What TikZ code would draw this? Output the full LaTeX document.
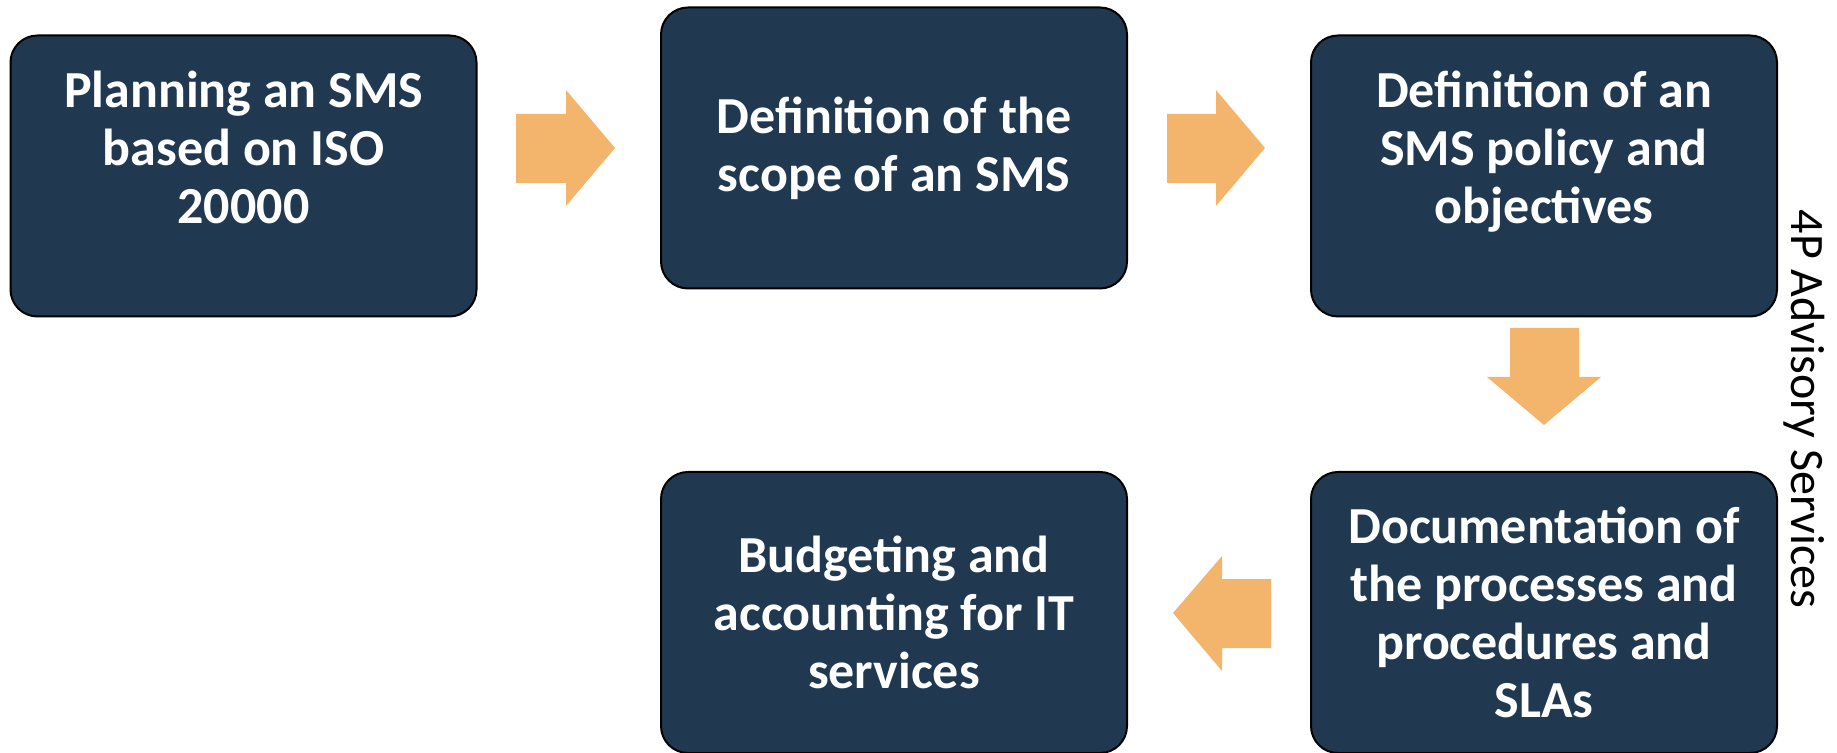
\documentclass[tikz,border=0pt]{standalone}
\usepackage{fontspec}
\setmainfont{Carlito}
\definecolor{boxfill}{RGB}{33,57,80}
\definecolor{arrowfill}{RGB}{243,180,108}
\tikzset{
  stepbox/.style={draw=black, line width=1pt, fill=boxfill, rounded corners=13.5pt,
    minimum width=233pt, minimum height=140.5pt, inner sep=0pt,
    text=white, align=center, font=\fontsize{26}{29}\selectfont\bfseries},
  blockarrow/.style={fill=arrowfill},
  sidelabel/.style={font=\fontsize{24}{28}\selectfont, text=black, inner sep=0pt}
}
\begin{document}
\begin{tikzpicture}[x=0.5pt, y=-0.5pt]
\path[use as bounding box] (0,0) rectangle (1837,753);
\node[stepbox] (b1) at (243.5,176) {Planning an SMS\\based on ISO\\20000\\~};
\node[stepbox] (b2) at (894,148) {Definition of the\\scope of an SMS};
\node[stepbox] (b3) at (1544,176) {Definition of an\\SMS policy and\\objectives\\~};
\node[stepbox] (b5) at (1544,612.5) {Documentation of\\the processes and\\procedures and\\SLAs};
\node[stepbox] (b4) at (894,612.5) {Budgeting and\\accounting for IT\\services};
% block arrows
\fill[blockarrow] (516,114) -- (566,114) -- (566,90) -- (615,148) -- (566,206) -- (566,183) -- (516,183) -- cycle;
\fill[blockarrow] (1167,114) -- (1216,114) -- (1216,90) -- (1265,148) -- (1216,206) -- (1216,183) -- (1167,183) -- cycle;
\fill[blockarrow] (1510,328) -- (1579,328) -- (1579,377) -- (1601,377) -- (1544,425) -- (1487,377) -- (1510,377) -- cycle;
\fill[blockarrow] (1271,579) -- (1222,579) -- (1222,556) -- (1173,613) -- (1222,671) -- (1222,648) -- (1271,648) -- cycle;
\node[sidelabel, rotate=-90] (lab) at (1804,409) {4P Advisory Services};
\end{tikzpicture}
\end{document}
